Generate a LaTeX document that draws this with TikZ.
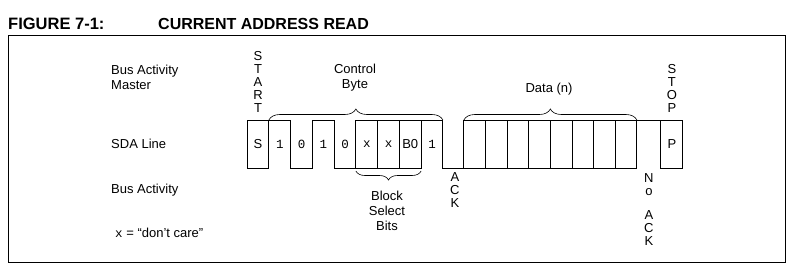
\documentclass[tikz,border=0pt]{standalone}
\usepackage{fontspec}
\setmainfont{Liberation Sans}
\setmonofont{Liberation Mono}
\usetikzlibrary{positioning, decorations.pathreplacing}

\newcommand{\lblfont}{\fontsize{13}{15}\selectfont}
\newcommand{\bitfont}{\ttfamily\fontsize{12.5}{14}\selectfont}

\tikzset{
  lbl/.style={font=\lblfont, inner sep=0pt},
  vlbl/.style={font=\fontsize{13}{13}\selectfont, align=center, inner sep=0pt},
  cell/.style={minimum width=21.75pt, minimum height=48pt, inner sep=0pt, outer sep=0pt, font=\lblfont},
  bit/.style={font=\bitfont},
  bitbox/.style={draw, line width=0.8pt},
  wave/.style={line width=0.8pt, line join=miter},
  brc/.style={decorate, decoration={brace, amplitude=11pt}, line width=0.6pt},
}

\begin{document}
\begin{tikzpicture}[x=1pt, y=-1pt]
  \useasboundingbox (0,0) rectangle (800,276);

  % title and frame
  \node[font=\bfseries\fontsize{16.5}{18}\selectfont, anchor=base west, inner sep=0pt] (fignum) at (8,29) {FIGURE 7-1:};
  \node[font=\bfseries\fontsize{16}{18}\selectfont, anchor=base west, inner sep=0pt] (figttl) at (158,29) {CURRENT ADDRESS READ};
  \draw[line width=1pt] (8,35) rectangle (785,262);

  % row labels
  \node[lbl, align=left, anchor=north west] (master) at (111,65.3) {Bus Activity\\Master};
  \node[lbl, anchor=base west] (sda) at (111,148.5) {SDA Line};
  \node[lbl, anchor=base west] (busact) at (111,193) {Bus Activity};
  \node[lbl, anchor=base west] (dontcare) at (115,237) {{\bitfont x} = “don’t care”};

  % bit cells
  \node[cell, bitbox] (c0) at (258,144) {S};
  \node[cell, bit, right=0pt of c0] (c1) {1};
  \node[cell, bit, right=0pt of c1] (c2) {0};
  \node[cell, bit, right=0pt of c2] (c3) {1};
  \node[cell, bit, right=0pt of c3] (c4) {0};
  \node[cell, bit, bitbox, right=0pt of c4] (c5) {x};
  \node[cell, bit, bitbox, right=0pt of c5] (c6) {x};
  \node[cell, bitbox, right=0pt of c6] (c7) {B0};
  \node[cell, bit, right=0pt of c7] (c8) {1};
  \node[cell, minimum width=21pt, right=0pt of c8] (ackc) {};
  \node[cell, bitbox, minimum width=21.625pt, right=0pt of ackc] (d1) {};
  \foreach \i [count=\j from 1] in {2,...,8}
    \node[cell, bitbox, minimum width=21.625pt, right=0pt of d\j] (d\i) {};
  \node[cell, minimum width=24pt, right=0pt of d8] (noack) {};
  \node[cell, bitbox, minimum width=22pt, right=0pt of noack] (pc) {P};

  % waveform between boxes
  \draw[wave] (c1.north west) -- (c1.north east) -- (c1.south east) -- (c2.south east)
    -- (c2.north east) -- (c3.north east) -- (c3.south east) -- (c4.south east);
  \draw[wave] (c8.north west) -- (c8.north east) -- (c8.south east) -- (ackc.south east);
  \draw[wave] (noack.north west) -- (noack.north east);

  % braces
  \draw[brc] (c1.north west) -- (c8.north east);
  \draw[brc] (d1.north west) -- (d8.north east);
  \draw[brc, decoration={brace, amplitude=9pt, raise=3pt}] (c7.south east) -- (c5.south west);

  \node[lbl, align=center, anchor=north] (ctrl) at (355,64) {Control\\Byte};
  \node[lbl, anchor=base] (data) at (549,92) {Data (n)};
  \node[lbl, align=center, anchor=north] (blk) at (387,191) {Block\\Select\\Bits};

  % vertical markers
  \node[vlbl, above=7pt of c0] (start) {S\\T\\A\\R\\T};
  \node[vlbl, above=7pt of pc] (stop) {S\\T\\O\\P};
  \node[vlbl, below=4.5pt of ackc, xshift=1.5pt] (ack) {A\\C\\K};
  \node[vlbl, below=5pt of noack] (nak) {N\\o\\[11pt]A\\C\\K};
\end{tikzpicture}
\end{document}
